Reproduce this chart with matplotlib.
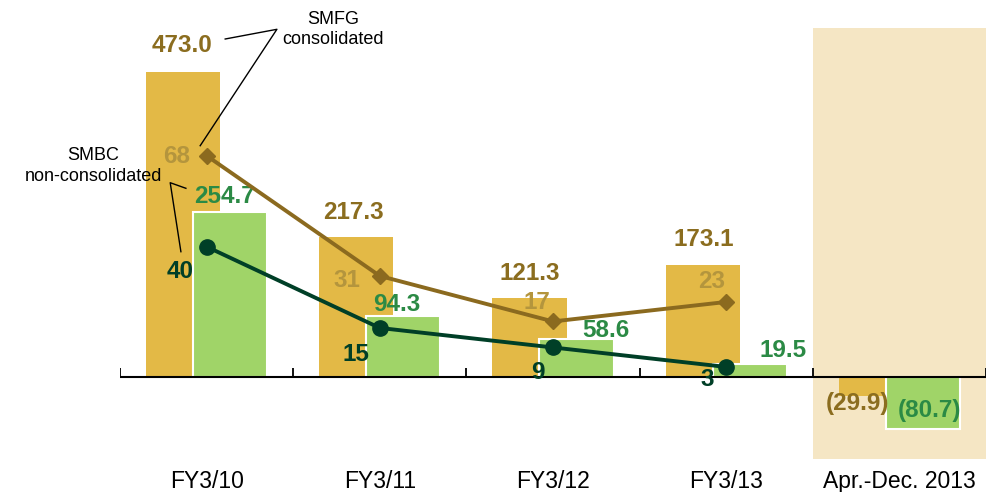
import numpy as np
import matplotlib
matplotlib.use("Agg")
import matplotlib.pyplot as plt
from matplotlib.lines import Line2D

plt.rcParams['font.family'] = ['Liberation Sans', 'DejaVu Sans']

# ---------------- data ----------------
categories = ["FY3/10", "FY3/11", "FY3/12", "FY3/13", "Apr.-Dec. 2013"]
smfg_bars = [473.0, 217.3, 121.3, 173.1, -29.9]
smbc_bars = [254.7, 94.3, 58.6, 19.5, -80.7]
smfg_line = [68, 31, 17, 23]
smbc_line = [40, 15, 9, 3]

# ---------------- style ----------------
gold_bar = "#E3B946"
green_bar = "#A0D468"
beige = "#F5E6C4"
gold_text = "#8B6D1F"
green_text = "#2B8A45"
gold_line = "#8B6A1F"
dark_green = "#003F27"
light_gold_text = "#B4953D"

# label nudges in pixels (dx, dy up-positive), relative to bar end / marker
smfg_bar_off = [(-1, 28), (-3, 26.5), (0, 27.5), (1, 28), (-18, -5)]
smbc_bar_off = [(-6, 18.4), (-7, 14), (29, 11), (33, 16), (7, 20)]
smfg_line_off = [(-30, 1), (-33, -2), (-16, 21.5), (-15, 23)]
smbc_line_off = [(-26, -23), (-24, -24), (-15, -22.5), (-19, -10)]

W, H = 989, 492
fig = plt.figure(figsize=(W / 100, H / 100), dpi=100)
ax_left, ax_right, ax_top, ax_bot = 120, 986, 28, 459
ax = fig.add_axes([ax_left / W, (H - ax_bot) / H, (ax_right - ax_left) / W, (ax_bot - ax_top) / H])

base_px = 376.7
s1 = 0.645   # px per unit (bars)
s2 = 3.25    # px per unit (lines)
ax.set_ylim(-(ax_bot - base_px) / s1, (base_px - ax_top) / s1)
n = len(categories)
x = np.arange(n)
ax.set_xlim(-0.5, n - 0.5)

ax.axvspan(n - 1.5, n - 0.5, color=beige, zorder=0, lw=0)

bw = 0.428
off = 0.136
ax.bar(x - off, smfg_bars, bw, color=gold_bar, zorder=2, lw=0)
ax.bar(x + off, smbc_bars, bw, color=green_bar, zorder=3, edgecolor="white", lw=1.5)

ax.axhline(0, color="black", lw=1.5, zorder=5)
ax.vlines(np.arange(n + 1) - 0.5, 0, 9 / s1, color="black", lw=1.3, zorder=5)

for s in ax.spines.values():
    s.set_visible(False)
ax.set_yticks([])
ax.set_xticks(x, labels=categories)
ax.tick_params(axis='x', length=0, pad=8, labelsize=16.5, colors="black")

ax2 = ax.twinx()
ax2.set_ylim(-(ax_bot - base_px) / s2, (base_px - ax_top) / s2)
for s in ax2.spines.values():
    s.set_visible(False)
ax2.set_yticks([])
xl = x[:len(smfg_line)]
ax2.plot(xl, smfg_line, color=gold_line, lw=2.8, marker='D', ms=8.5, zorder=4)
ax2.plot(xl, smbc_line, color=dark_green, lw=2.8, marker='o', ms=11, zorder=4)

VAL_FS = 17.5
CAP = 0.358  # cap-height centre in em


def put(axis, xv, yv, txt, dxy, color, fs=VAL_FS, weight='bold'):
    dx, dy = dxy
    axis.annotate(txt, xy=(xv, yv), xytext=(dx * 0.72, dy * 0.72 - CAP * fs),
                  textcoords='offset points', ha='center', va='baseline',
                  color=color, fontsize=fs, fontweight=weight, zorder=6)


def fmt(v):
    return f"({abs(v):.1f})" if v < 0 else f"{v:.1f}"


for i, v in enumerate(smfg_bars):
    put(ax, x[i] - off, v, fmt(v), smfg_bar_off[i], gold_text)
for i, v in enumerate(smbc_bars):
    put(ax, x[i] + off, v, fmt(v), smbc_bar_off[i], green_text)
for i, v in enumerate(smfg_line):
    put(ax2, xl[i], v, f"{v}", smfg_line_off[i], light_gold_text)
for i, v in enumerate(smbc_line):
    put(ax2, xl[i], v, f"{v}", smbc_line_off[i], dark_green)

# ---------------- callouts ----------------
inv = fig.transFigure.inverted()


def callout(anchor, pts, text_off, text):
    px = ax2.transData.transform(anchor)
    coords = [inv.transform((px[0] + dx, px[1] + dy)) for dx, dy in pts]
    xs, ys = zip(*coords)
    fig.add_artist(Line2D(xs, ys, color="black", lw=1.0, transform=fig.transFigure))
    tx, ty = inv.transform((px[0] + text_off[0], px[1] + text_off[1]))
    fig.text(tx, ty, text, ha='center', va='center', fontsize=13,
             color="black", linespacing=1.25, multialignment='center')


callout((xl[0], smfg_line[0]), [(18.6, 116.7), (70.3, 126.4), (-6.4, 10)],
        (126.6, 126.2), "SMFG\nconsolidated")
callout((xl[0], smbc_line[0]), [(-20.7, 58.4), (-36.4, 64), (-25.7, -5)],
        (-113.4, 80.7), "SMBC\nnon-consolidated")

fig.savefig("out.png", dpi=100)
